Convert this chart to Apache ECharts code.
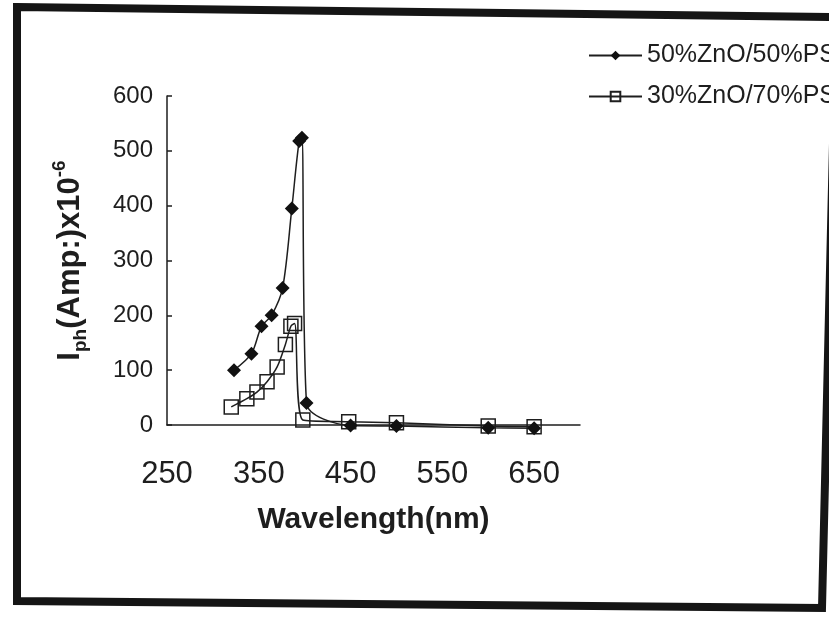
<!DOCTYPE html>
<html>
<head>
<meta charset="utf-8">
<script src="https://cdn.jsdelivr.net/npm/echarts@6/dist/echarts.min.js"></script>
<style>
  html, body { margin: 0; padding: 0; background: #fff; }
  #chart { width: 829px; height: 620px; }
</style>
</head>
<body>
<div id="chart"></div>
<script>
// wavelength (nm) / photocurrent (x10^-6 A)
const wl50 = [323, 342, 353, 364, 376, 386, 394, 397, 402, 450, 500, 600, 650]
const iph50 = [100, 130, 180, 200, 250, 395, 518, 524, 40, -1, -2, -5, -6]
const wl30 = [320, 337, 348, 359, 370, 379, 385, 389, 398, 448, 500, 600, 650]
const iph30 = [33, 48, 60, 79, 106, 147, 180, 185, 9, 6, 4, -2, -3]
const seriesNames = ['50%ZnO/50%PS', '30%ZnO/70%PS']
const xTicks = [250, 350, 450, 550, 650]
const yTicks = [0, 100, 200, 300, 400, 500, 600]

const font = '"Liberation Sans", Arial, sans-serif'
const ink = '#1e1e1e'

const pairs = (xs, ys) => xs.map((x, i) => [x, ys[i]])

const myChart = echarts.init(document.getElementById('chart'))
myChart.setOption({
  backgroundColor: '#fff',
  animation: false,
  textStyle: { fontFamily: font, color: ink },
  graphic: [
    {
      // scanned page frame, slightly skewed
      type: 'polygon',
      shape: { points: [[17, 7], [836, 17], [822, 608], [17, 601]] },
      style: { fill: 'none', stroke: '#151515', lineWidth: 8 },
      z: 100
    }
  ],
  legend: {
    orient: 'vertical',
    left: 583,
    top: 38,
    itemWidth: 53,
    itemHeight: 12,
    itemGap: 16,
    data: seriesNames,
    textStyle: { fontFamily: font, fontSize: 25, color: ink }
  },
  grid: { left: 167, right: 249, top: 96, bottom: 195 },
  xAxis: {
    type: 'value',
    min: 250,
    max: 700,
    interval: 100,
    name: 'Wavelength(nm)',
    nameLocation: 'middle',
    nameGap: 80,
    nameTextStyle: { fontFamily: font, fontSize: 30, fontWeight: 'bold', color: ink },
    splitLine: { show: false },
    axisLine: { lineStyle: { color: ink, width: 1.5 } },
    axisTick: { show: false },
    axisLabel: {
      margin: 34,
      fontSize: 31,
      color: ink,
      showMaxLabel: false,
      formatter: v => (xTicks.includes(v) ? String(v) : '')
    }
  },
  yAxis: {
    type: 'value',
    min: 0,
    max: 600,
    interval: 100,
    name: '{b|I}{sub|ph}{b|(Amp:)x10}{sup|-6}',
    nameLocation: 'middle',
    nameRotate: 90,
    nameGap: 77,
    nameTextStyle: {
      fontFamily: font,
      color: ink,
      rich: {
        b: { fontSize: 31, fontWeight: 'bold', lineHeight: 40, fontFamily: font, color: ink },
        sub: { fontSize: 19, fontWeight: 'bold', lineHeight: 20, verticalAlign: 'bottom', fontFamily: font, color: ink },
        sup: { fontSize: 19, fontWeight: 'bold', lineHeight: 20, verticalAlign: 'top', fontFamily: font, color: ink }
      }
    },
    splitLine: { show: false },
    axisLine: { show: true, lineStyle: { color: ink, width: 1.5 } },
    axisTick: { show: true, inside: true, length: 5, lineStyle: { color: ink, width: 1.5 } },
    axisLabel: {
      margin: 14,
      fontSize: 24,
      color: ink,
      formatter: v => (yTicks.includes(v) ? String(v) : '')
    }
  },
  series: [
    {
      name: seriesNames[1],
      type: 'line',
      smooth: 0.3,
      clip: false,
      data: pairs(wl30, iph30),
      symbol: 'rect',
      symbolSize: 14,
      itemStyle: { color: 'rgba(255,255,255,0)', borderColor: ink, borderWidth: 1.5 },
      lineStyle: { color: ink, width: 1.5 }
    },
    {
      name: seriesNames[0],
      type: 'line',
      smooth: 0.3,
      clip: false,
      data: pairs(wl50, iph50),
      symbol: 'diamond',
      symbolSize: 14,
      itemStyle: { color: '#111' },
      lineStyle: { color: ink, width: 1.5 }
    }
  ]
})
</script>
</body>
</html>
